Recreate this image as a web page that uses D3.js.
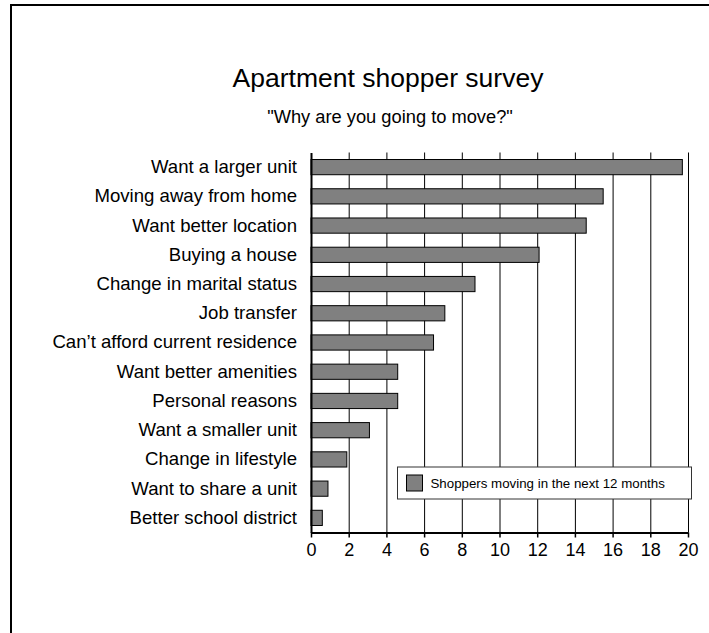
<!DOCTYPE html>
<html>
<head>
<meta charset="utf-8">
<script src="https://cdn.jsdelivr.net/npm/d3@7"></script>
<style>
  body { margin: 0; background: #fff; }
  svg { display: block; font-family: "Liberation Sans", Arial, sans-serif; }
</style>
</head>
<body>
<div id="chart"></div>
<script>
// Data
const reasons = [
  "Want a larger unit", "Moving away from home", "Want better location",
  "Buying a house", "Change in marital status", "Job transfer",
  "Can\u2019t afford current residence", "Want better amenities", "Personal reasons",
  "Want a smaller unit", "Change in lifestyle", "Want to share a unit",
  "Better school district"
];
const shoppers = [19.7, 15.5, 14.6, 12.1, 8.7, 7.1, 6.5, 4.6, 4.6, 3.1, 1.9, 0.9, 0.6];
const xTicks = [0, 2, 4, 6, 8, 10, 12, 14, 16, 18, 20];
const seriesName = "Shoppers moving in the next 12 months";
const title = "Apartment shopper survey";
const subtitle = "\"Why are you going to move?\"";

const W = 709, H = 633;
const margin = { top: 152.5, right: 21, bottom: 100.5, left: 311 };
const width = W - margin.left - margin.right;
const height = H - margin.top - margin.bottom;

const root = d3.select("#chart")
  .append("svg")
  .attr("width", W)
  .attr("height", H);

// outer frame (runs off the page on right and bottom)
root.append("rect")
  .attr("x", 11).attr("y", 5)
  .attr("width", 800).attr("height", 800)
  .attr("fill", "none")
  .attr("stroke", "#000")
  .attr("stroke-width", 2);

// titles
root.append("text")
  .attr("x", 388).attr("y", 87)
  .attr("text-anchor", "middle")
  .style("font-size", "26.5px")
  .text(title);

root.append("text")
  .attr("x", 390).attr("y", 123)
  .attr("text-anchor", "middle")
  .style("font-size", "18.3px")
  .text(subtitle);

const svg = root.append("g")
  .attr("transform", `translate(${margin.left},${margin.top})`);

const x = d3.scaleLinear()
  .domain([0, 20])
  .range([0, width]);

const y = d3.scaleBand()
  .domain(reasons)
  .range([0, height])
  .paddingInner(0.48)
  .paddingOuter(0.24);

// vertical gridlines
svg.append("g")
  .attr("class", "grid")
  .call(d3.axisBottom(x).tickValues(xTicks.slice(1)).tickSize(height).tickFormat(""))
  .call(g => g.select(".domain").remove())
  .call(g => g.selectAll("line").attr("stroke", "#000").attr("stroke-width", 1));

// bars
svg.selectAll("rect.bar")
  .data(shoppers)
  .enter()
  .append("rect")
  .attr("class", "bar")
  .attr("x", x(0))
  .attr("y", (d, i) => y(reasons[i]))
  .attr("width", d => x(d) - x(0))
  .attr("height", y.bandwidth())
  .attr("fill", "#808080")
  .attr("stroke", "#000")
  .attr("stroke-width", 1);

// category axis
svg.append("g")
  .call(d3.axisLeft(y).tickSize(0).tickPadding(14))
  .call(g => g.select(".domain").attr("stroke", "#000").attr("stroke-width", 2))
  .call(g => g.selectAll("text")
    .style("font-size", "18.6px")
    .attr("fill", "#000")
    .style("font-family", "'Liberation Sans', Arial, sans-serif"));

// value axis
svg.append("g")
  .attr("transform", `translate(0,${height})`)
  .call(d3.axisBottom(x).tickValues(xTicks).tickSize(5).tickSizeOuter(0).tickPadding(6))
  .call(g => g.select(".domain").attr("stroke", "#000").attr("stroke-width", 2))
  .call(g => g.selectAll("line").attr("stroke", "#000").attr("stroke-width", 1.5))
  .call(g => g.selectAll("text")
    .style("font-size", "18px")
    .attr("fill", "#000")
    .style("font-family", "'Liberation Sans', Arial, sans-serif"));

// legend
const legend = svg.append("g")
  .attr("transform", `translate(${397.5 - margin.left},${467 - margin.top})`);

legend.append("rect")
  .attr("width", 294)
  .attr("height", 32)
  .attr("fill", "#fff")
  .attr("stroke", "#333")
  .attr("stroke-width", 1);

legend.append("rect")
  .attr("x", 9).attr("y", 8)
  .attr("width", 16).attr("height", 16)
  .attr("fill", "#808080")
  .attr("stroke", "#000");

legend.append("text")
  .attr("x", 33).attr("y", 16)
  .attr("dy", ".35em")
  .style("font-size", "13.3px")
  .text(seriesName);
</script>
</body>
</html>
